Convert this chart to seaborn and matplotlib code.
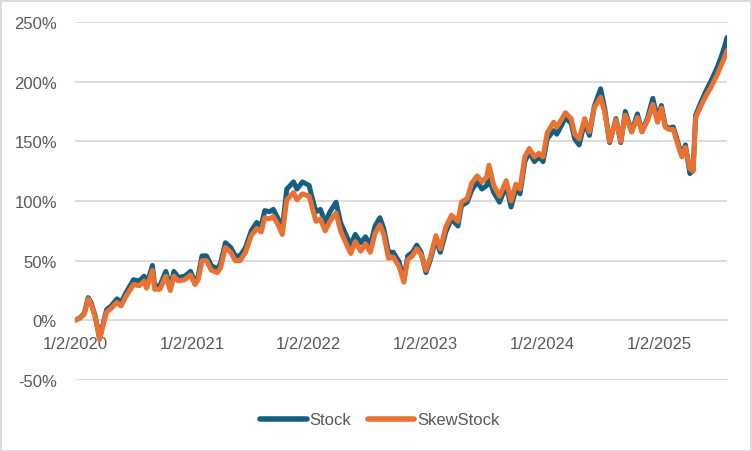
import matplotlib
matplotlib.use("Agg")
import matplotlib.pyplot as plt
import matplotlib.dates as mdates
from matplotlib.ticker import FuncFormatter, MultipleLocator
from matplotlib.patches import Rectangle
import seaborn as sns
import pandas as pd

dates = [
    "2020-01-02", "2020-01-17", "2020-01-31", "2020-02-12", "2020-02-21", "2020-03-05",
    "2020-03-19", "2020-03-27", "2020-04-10", "2020-04-24", "2020-05-12", "2020-05-25",
    "2020-06-09", "2020-07-03", "2020-07-21", "2020-08-05", "2020-08-13", "2020-08-31",
    "2020-09-07", "2020-09-23", "2020-10-12", "2020-10-26", "2020-11-06", "2020-11-20",
    "2020-12-10", "2020-12-28",
    "2021-01-11", "2021-01-21", "2021-02-02", "2021-02-16", "2021-03-03", "2021-03-22",
    "2021-04-01", "2021-04-16", "2021-05-03", "2021-05-17", "2021-06-01", "2021-06-18",
    "2021-07-06", "2021-07-23", "2021-08-06", "2021-08-17", "2021-09-01", "2021-09-13",
    "2021-09-28", "2021-10-11", "2021-10-25", "2021-11-15", "2021-11-26", "2021-12-13",
    "2022-01-03", "2022-01-10", "2022-01-24", "2022-02-07", "2022-02-22", "2022-03-09",
    "2022-03-28", "2022-04-11", "2022-04-29", "2022-05-13", "2022-05-27", "2022-06-13",
    "2022-06-28", "2022-07-13", "2022-07-28", "2022-08-12", "2022-08-24", "2022-09-08",
    "2022-09-23", "2022-10-11", "2022-10-26", "2022-11-07", "2022-11-22", "2022-12-05",
    "2022-12-19",
    "2023-01-03", "2023-01-17", "2023-02-03", "2023-02-17", "2023-03-06", "2023-03-24",
    "2023-04-13", "2023-04-24", "2023-05-12", "2023-05-26", "2023-06-12", "2023-06-27",
    "2023-07-12", "2023-07-19", "2023-08-03", "2023-08-21", "2023-09-11", "2023-09-26",
    "2023-10-11", "2023-10-24", "2023-11-08", "2023-11-22", "2023-12-08", "2023-12-22",
    "2024-01-04", "2024-01-17", "2024-02-06", "2024-02-16", "2024-03-01", "2024-03-14",
    "2024-04-01", "2024-04-12", "2024-04-26", "2024-05-13", "2024-05-28", "2024-06-12",
    "2024-07-02", "2024-07-15", "2024-07-30", "2024-08-19", "2024-09-03", "2024-09-17",
    "2024-10-07", "2024-10-25", "2024-11-08", "2024-11-25", "2024-12-12", "2024-12-27",
    "2025-01-08", "2025-01-20", "2025-01-31", "2025-02-14", "2025-03-03", "2025-03-13",
    "2025-03-24", "2025-04-07", "2025-04-17", "2025-04-25", "2025-05-12", "2025-05-27",
    "2025-06-11", "2025-06-30", "2025-07-14", "2025-07-24", "2025-08-01",
]

stock = [
    0, 2, 6, 19, 15, 4, -15, -6, 9, 12, 18, 15, 23, 34, 33, 37, 30, 46, 29, 29, 41, 27, 41, 36, 37, 41,
    32, 37, 54, 54, 46, 43, 48, 65, 61, 54, 54, 61, 75, 82, 79, 92, 91, 93, 85, 77, 110, 116, 110, 116,
    113, 105, 91, 93, 82, 91, 99, 82, 71, 63, 72, 65, 70, 63, 79, 86, 77, 57, 57, 49, 34, 54, 57, 63, 57,
    40, 51, 68, 57, 74, 85, 79, 96, 99, 109, 116, 110, 113, 119, 107, 99, 113, 95, 110, 106, 133, 141, 133, 137,
    133, 152, 159, 156, 163, 170, 165, 152, 147, 166, 155, 179, 194, 177, 149, 169, 149, 175, 158, 173, 158, 169, 186, 169,
    180, 163, 161, 162, 147, 138, 147, 123, 126, 172, 183, 192, 200, 211, 221, 229, 237,
]

skew_stock = [
    0, 2, 5, 18, 14, 3, -16, -7, 7, 10, 15, 12, 20, 30, 29, 33, 27, 42, 26, 26, 37, 25, 37, 33, 34, 38,
    30, 34, 50, 50, 42, 40, 44, 61, 57, 50, 50, 57, 71, 77, 74, 86, 85, 87, 80, 72, 101, 107, 101, 106,
    104, 97, 83, 85, 75, 83, 90, 75, 64, 56, 66, 58, 64, 57, 73, 80, 72, 52, 53, 45, 32, 51, 54, 60, 55,
    42, 53, 71, 60, 78, 88, 83, 99, 102, 115, 121, 116, 120, 130, 113, 104, 117, 100, 114, 110, 137, 144, 137, 140,
    137, 157, 166, 162, 168, 174, 169, 156, 152, 169, 158, 178, 187, 174, 150, 168, 150, 172, 158, 170, 158, 167, 181, 166,
    178, 162, 160, 160, 145, 137, 145, 127, 125, 170, 180, 188, 195, 205, 214, 220, 226,
]

series_names = ["Stock", "SkewStock"]
colors = ["#156082", "#E97132"]
year_ticks = ["2020-01-02", "2021-01-02", "2022-01-02", "2023-01-02", "2024-01-02", "2025-01-02"]

df = pd.concat([
    pd.DataFrame({"Date": pd.to_datetime(dates), "Value": stock, "Series": series_names[0]}),
    pd.DataFrame({"Date": pd.to_datetime(dates), "Value": skew_stock, "Series": series_names[1]}),
])

sns.set_theme(style="white")
plt.rcParams["font.family"] = ["Liberation Sans", "DejaVu Sans"]
text_color = "#595959"
grid_color = "#D9D9D9"

fig = plt.figure(figsize=(7.52, 4.52), dpi=100)
ax = fig.add_axes([75 / 752, 1 - 381 / 452, (727 - 75) / 752, (381 - 23) / 452])

sns.lineplot(data=df, x="Date", y="Value", hue="Series", hue_order=series_names,
             palette=colors, linewidth=3.6, ax=ax, legend=True,
             solid_capstyle="round", solid_joinstyle="round")

ax.set_xlim(pd.Timestamp(dates[0]), pd.Timestamp(dates[-1]))
ax.set_ylim(-50, 250)
ax.yaxis.set_major_locator(MultipleLocator(50))
ax.yaxis.set_major_formatter(FuncFormatter(lambda v, p: f"{int(round(v))}%"))
ax.set_xticks(pd.to_datetime(year_ticks))
ax.xaxis.set_major_formatter(FuncFormatter(
    lambda v, p: f"{mdates.num2date(v).month}/{mdates.num2date(v).day}/{mdates.num2date(v).year}"))

ax.grid(axis="y", color=grid_color, linewidth=1.3)
ax.set_axisbelow(True)
for s in ["top", "right", "left"]:
    ax.spines[s].set_visible(False)
ax.spines["bottom"].set_position(("data", 0))
ax.spines["bottom"].set_color(grid_color)
ax.spines["bottom"].set_linewidth(1.3)
ax.spines["bottom"].set_zorder(0.5)

ax.tick_params(axis="x", direction="out", length=4, width=1.3, color=grid_color,
               labelsize=12, labelcolor=text_color, pad=7)
ax.tick_params(axis="y", length=0, labelsize=12, labelcolor=text_color, pad=13)
ax.set_xlabel("")
ax.set_ylabel("")

handles, labels = ax.get_legend_handles_labels()
ax.legend(handles, labels, loc="center", bbox_to_anchor=(0.505, 31 / 452),
          bbox_transform=fig.transFigure, ncol=2, frameon=False, fontsize=12,
          labelcolor=text_color, handlelength=2.8, handletextpad=0.15, columnspacing=1.0)
for line in ax.get_legend().get_lines():
    line.set_linewidth(4)
    line.set_solid_capstyle("round")

fig.patches.append(Rectangle((0.5 / 752, 0.5 / 452), 1 - 2 / 752, 1 - 2 / 452,
                             transform=fig.transFigure, fill=False,
                             edgecolor=grid_color, linewidth=1.3))

fig.savefig("out.png", dpi=100)
